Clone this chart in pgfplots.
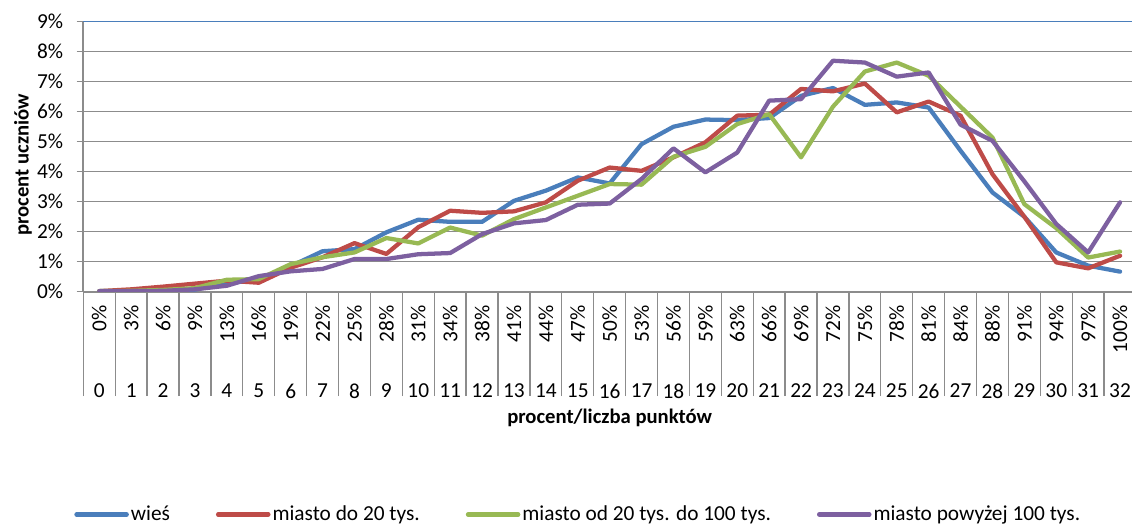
\documentclass[border=0pt]{standalone}
\usepackage{fontspec}
\setmainfont{Carlito}
\usepackage{pgfplots}
\pgfplotsset{compat=1.18}
\definecolor{sblue}{HTML}{4A7EBB}
\definecolor{sred}{HTML}{BE4B48}
\definecolor{sgreen}{HTML}{98B954}
\definecolor{spurple}{HTML}{7D60A0}
\definecolor{gridgray}{HTML}{8C8C8C}
\newcommand\lf{\fontsize{16}{19}\selectfont}
\begin{document}
\lf
\begin{tikzpicture}
\useasboundingbox (0,0) rectangle (849pt,394.5pt);
% axis with percent labels (upper row of category labels)
\begin{axis}[
  at={(62.5pt,175.7pt)}, anchor=south west,
  scale only axis, width=789.5pt, height=202.5pt,
  xmin=-0.5, xmax=32.5, ymin=0, ymax=9,
  axis line style={draw=none},
  ytick=\empty,
  xtick={0,...,32},
  xticklabels={0\%,3\%,6\%,9\%,13\%,16\%,19\%,22\%,25\%,28\%,31\%,34\%,38\%,41\%,44\%,47\%,50\%,53\%,56\%,59\%,63\%,66\%,69\%,72\%,75\%,78\%,81\%,84\%,88\%,91\%,94\%,97\%,100\%},
  xtick style={draw=none},
  major tick length=0pt,
  xticklabel style={yshift=-10pt, rotate=90, anchor=east, inner sep=0pt, font=\lf},
]
\end{axis}
\begin{axis}[
  at={(62.5pt,175.7pt)}, anchor=south west,
  scale only axis, width=789.5pt, height=202.5pt,
  xmin=-0.5, xmax=32.5, ymin=0, ymax=9,
  axis x line=bottom, axis y line=left,
  axis line style={-, draw=gridgray, line width=1.5pt},
  ytick={0,...,8},
  yticklabels={0\%,1\%,2\%,3\%,4\%,5\%,6\%,7\%,8\%},
  extra y ticks={9}, extra y tick labels={9\%},
  extra y tick style={grid style={draw=sblue, line width=0.9pt}},
  ymajorgrids, grid style={draw=gridgray, line width=0.75pt},
  tick align=outside, major tick length=5pt,
  ytick style={draw=gridgray, line width=0.75pt},
  yticklabel style={anchor=east, inner sep=0pt, xshift=-10pt, font=\lf},
  xtick={0,...,32},
  xticklabels={0,1,2,3,4,5,6,7,8,9,10,11,12,13,14,15,16,17,18,19,20,21,22,23,24,25,26,27,28,29,30,31,32},
  xtick style={draw=none},
  xticklabel style={anchor=north, inner sep=0pt, yshift=-64pt, font=\lf},
  extra x ticks={-0.5,0.5,1.5,2.5,3.5,4.5,5.5,6.5,7.5,8.5,9.5,10.5,11.5,12.5,13.5,14.5,15.5,16.5,17.5,18.5,19.5,20.5,21.5,22.5,23.5,24.5,25.5,26.5,27.5,28.5,29.5,30.5,31.5,32.5},
  extra x tick labels={},
  extra x tick style={major tick length=78.2pt, xtick style={draw=gridgray, line width=1pt}, xmajorgrids=false},
  xlabel={\bfseries procent/liczba punktów},
  xlabel style={at={(axis description cs:0.5,-0.468)}, anchor=center, font=\fontsize{15.5}{18}\selectfont},
  ylabel={\bfseries procent uczniów},
  ylabel style={at={(axis description cs:-0.0573,0.47)}, anchor=center, font=\fontsize{15.5}{18}\selectfont},
  every axis plot/.append style={line width=3.2pt, line join=round, line cap=round},
  legend columns=4,
  legend style={draw=none, fill=none, at={(axis description cs:-0.0088,-0.825)}, anchor=west, inner sep=0pt, nodes={inner sep=1.5pt}, font=\lf, /tikz/every even column/.append style={column sep=33pt}},
  legend image code/.code={\draw[#1, line width=3.4pt, line cap=round] (0pt,0pt) -- (37.5pt,0pt);},
]
\addplot[sblue] coordinates {(0,0.02)(1,0.03)(2,0.05)(3,0.07)(4,0.30)(5,0.38)(6,0.85)(7,1.35)(8,1.42)(9,1.98)(10,2.40)(11,2.33)(12,2.33)(13,3.03)(14,3.37)(15,3.81)(16,3.61)(17,4.92)(18,5.50)(19,5.74)(20,5.72)(21,5.79)(22,6.53)(23,6.79)(24,6.23)(25,6.31)(26,6.14)(27,4.70)(28,3.31)(29,2.50)(30,1.31)(31,0.87)(32,0.67)};
\addlegendentry{wieś}
\addplot[sred] coordinates {(0,0.02)(1,0.08)(2,0.17)(3,0.27)(4,0.37)(5,0.30)(6,0.80)(7,1.15)(8,1.62)(9,1.26)(10,2.15)(11,2.70)(12,2.63)(13,2.68)(14,2.98)(15,3.70)(16,4.14)(17,4.03)(18,4.48)(19,4.98)(20,5.87)(21,5.90)(22,6.76)(23,6.68)(24,6.94)(25,5.98)(26,6.34)(27,5.87)(28,3.92)(29,2.50)(30,0.98)(31,0.78)(32,1.20)};
\addlegendentry{miasto do 20 tys.}
\addplot[sgreen] coordinates {(0,0.02)(1,0.03)(2,0.06)(3,0.12)(4,0.40)(5,0.42)(6,0.92)(7,1.15)(8,1.31)(9,1.79)(10,1.61)(11,2.14)(12,1.87)(13,2.42)(14,2.81)(15,3.20)(16,3.59)(17,3.57)(18,4.50)(19,4.83)(20,5.59)(21,5.92)(22,4.48)(23,6.17)(24,7.34)(25,7.64)(26,7.20)(27,6.17)(28,5.14)(29,2.92)(30,2.12)(31,1.14)(32,1.34)};
\addlegendentry{miasto od 20 tys. do 100 tys.}
\addplot[spurple] coordinates {(0,0.02)(1,0.02)(2,0.03)(3,0.08)(4,0.20)(5,0.52)(6,0.68)(7,0.76)(8,1.09)(9,1.09)(10,1.25)(11,1.29)(12,1.92)(13,2.28)(14,2.39)(15,2.90)(16,2.94)(17,3.76)(18,4.78)(19,3.98)(20,4.64)(21,6.37)(22,6.42)(23,7.70)(24,7.64)(25,7.17)(26,7.31)(27,5.57)(28,5.03)(29,3.68)(30,2.26)(31,1.31)(32,2.98)};
\addlegendentry{miasto powyżej 100 tys.}
\end{axis}
\end{tikzpicture}
\end{document}
